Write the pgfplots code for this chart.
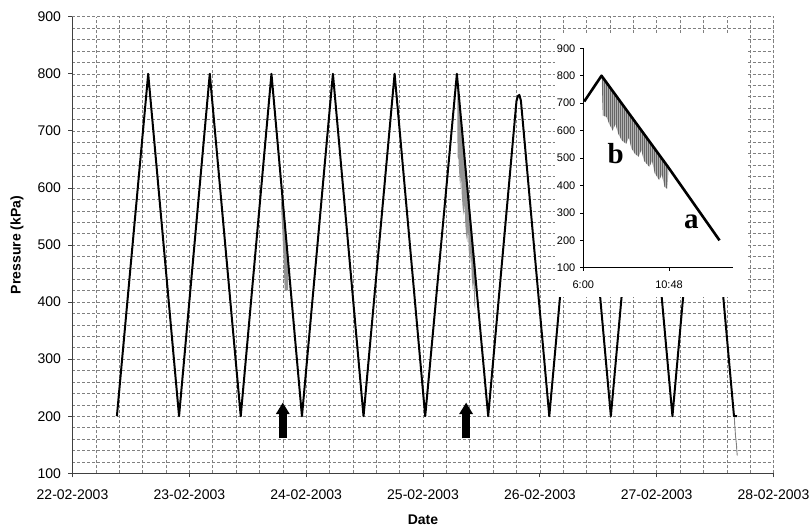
\documentclass[border=0pt]{standalone}
\usepackage{fontspec}
\setmainfont{Liberation Sans}
\newfontfamily\serifb{Liberation Serif}
\usepackage{pgfplots}
\usepackage{pgfplotstable}
\pgfplotsset{compat=1.18}
\usetikzlibrary{arrows.meta,patterns.meta}

% gray signal "b" of the 25-02 cycle, hours of the day vs kPa (outline of the band)
\pgfplotstableread{
h v
7.03 799
10.76 466
10.76 440
10.70 388
10.55 395
10.40 440
10.25 420
10.00 445
9.85 490
9.70 468
9.40 490
9.25 530
9.10 505
8.90 515
8.70 535
8.55 575
8.40 552
8.15 565
7.95 590
7.80 625
7.65 600
7.45 625
7.30 650
7.10 655
7.06 730
}\bandb

\begin{document}
\begin{tikzpicture}
\useasboundingbox (-72.5pt,-54.7pt) rectangle (736.5pt,473.3pt);

\begin{axis}[
  at={(0pt,0pt)}, anchor=south west,
  scale only axis, width=701pt, height=456.6pt,
  xmin=0, xmax=6, ymin=100, ymax=900,
  xtick={0,...,6},
  xticklabels={22-02-2003,23-02-2003,24-02-2003,25-02-2003,26-02-2003,27-02-2003,28-02-2003},
  minor x tick num=4,
  ytick={100,200,...,900},
  minor y tick num=4,
  axis lines=left,
  axis line style={-, black!75, line width=0.8pt},
  tick style={black!75, line width=0.8pt},
  tick align=outside,
  major tick length=4pt,
  minor tick length=0pt,
  grid=both,
  grid style={black!50, dash pattern=on 3pt off 2pt, line width=0.5pt},
  tick label style={font=\fontsize{14}{16}\selectfont},
  x tick label style={yshift=-8.5pt},
  y tick label style={xshift=-4pt},
  /pgf/number format/assume math mode=true,
  xlabel={Date}, ylabel={Pressure (kPa)},
  label style={font=\bfseries\fontsize{14}{16}\selectfont},
  xlabel style={at={(axis description cs:0.5,-0.102)}, anchor=center},
  ylabel style={at={(axis description cs:-0.079,0.5)}, anchor=center},
  clip=false,
]
\addplot[draw=none, fill=black!42] table[x expr=3+\thisrow{h}/24, y=v] {\bandb};
\addplot[draw=none, fill=black!42] coordinates {
  (1.793,593) (1.845,474) (1.845,421) (1.830,420) (1.816,422) (1.812,445)
  (1.808,468) (1.803,490) (1.800,505) (1.795,530) (1.790,548) (1.785,570)
};
\addplot[black, line width=2pt, line join=round] coordinates {
  (0.380,200) (0.648,800) (0.912,200) (1.175,800) (1.440,200) (1.703,800)
  (1.964,200) (2.229,800) (2.491,200) (2.757,800) (3.019,200) (3.290,800)
  (3.558,200) (3.800,752) (3.812,761) (3.825,763) (3.838,753) (4.081,200)
  (4.345,800) (4.608,200) (4.871,800) (5.135,200) (5.398,800) (5.662,200)
  (5.688,200)
};
\addplot[black!50, line width=0.9pt] coordinates {
  (5.665,198) (5.668,185) (5.672,175) (5.675,165) (5.678,160) (5.683,150)
  (5.686,140) (5.690,131)
};
\draw[black, line width=7.5pt, -{Triangle[width=13pt,length=11.5pt]}]
  (axis cs:1.800,161) -- (axis cs:1.800,224);
\draw[black, line width=7.5pt, -{Triangle[width=13pt,length=11.5pt]}]
  (axis cs:3.369,161) -- (axis cs:3.369,224);
\end{axis}

\fill[white] (482.5pt,176pt) rectangle (675.5pt,440pt);

\begin{axis}[
  at={(510.8pt,205.5pt)}, anchor=south west,
  scale only axis, width=150pt, height=219.5pt,
  xmin=6, xmax=14.4, ymin=100, ymax=900,
  xtick={6,10.8}, xticklabels={6:00,10:48},
  ytick={100,200,...,900},
  axis lines=left,
  axis line style={-, black, line width=0.8pt},
  tick style={black, line width=0.8pt},
  tick align=outside,
  major tick length=3pt,
  tick label style={font=\fontsize{11}{13}\selectfont},
  x tick label style={yshift=-6pt},
  y tick label style={xshift=-1.5pt},
  /pgf/number format/assume math mode=true,
  clip=false,
]
\addplot[draw=none, fill=black!30,
  postaction={pattern={Lines[angle=90,distance=2pt,line width=0.8pt]}, pattern color=black!60}]
  table[x=h, y=v] {\bandb};
\addplot[black, line width=2.6pt, line join=round] coordinates {
  (6.05,706) (7.02,800) (10.74,468) (13.63,200)
};
\node[font=\serifb\bfseries\fontsize{29}{30}\selectfont] at (axis cs:7.82,516) {b};
\node[font=\serifb\bfseries\fontsize{29}{30}\selectfont] at (axis cs:12.05,267) {a};
\end{axis}
\end{tikzpicture}
\end{document}
